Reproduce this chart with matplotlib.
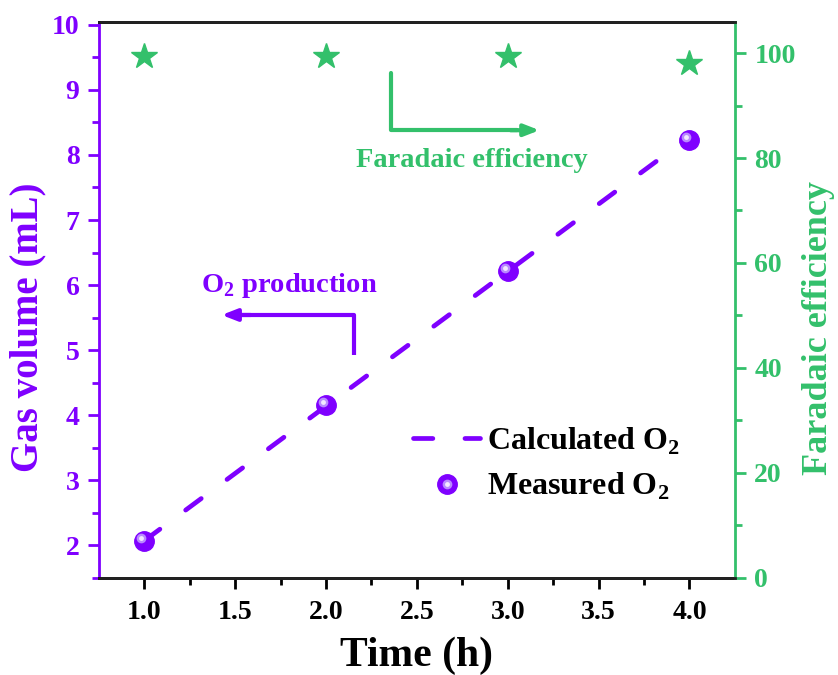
import matplotlib.pyplot as plt
import matplotlib.transforms as mtransforms
from matplotlib.legend_handler import HandlerTuple

plt.rcParams['font.family'] = 'Liberation Serif'
plt.rcParams['font.weight'] = 'bold'
plt.rcParams['mathtext.fontset'] = 'custom'
plt.rcParams['mathtext.rm'] = 'Liberation Serif:bold'
plt.rcParams['mathtext.bf'] = 'Liberation Serif:bold'

purple = '#7F00FF'
green = '#33C06B'

time_h = [1.0, 2.0, 3.0, 4.0]
measured_o2 = [2.07, 4.16, 6.22, 8.23]
calc_time = [1.0, 4.0]
calc_o2 = [2.07, 8.28]
faradaic_eff = [99.5, 99.5, 99.4, 98.1]

fig, ax = plt.subplots(figsize=(8.38, 6.75), dpi=100)
fig.subplots_adjust(left=0.118, right=0.877, top=0.968, bottom=0.144)
ax2 = ax.twinx()

# calculated line and measured spheres
calc_line, = ax.plot(calc_time, calc_o2, color=purple, lw=3.4,
                     dashes=(4.1, 6.8), dash_capstyle='round', zorder=3)
meas, = ax.plot(time_h, measured_o2, 'o', color=purple, ms=14, zorder=4, mec=purple)
shift = mtransforms.ScaledTranslation(-2.2 / 72, 2.2 / 72, fig.dpi_scale_trans)
hl1, = ax.plot(time_h, measured_o2, 'o', color='#B98AFF', ms=7, mew=0, zorder=5,
               transform=ax.transData + shift)
hl2, = ax.plot(time_h, measured_o2, 'o', color='#F2E8FF', ms=3.5, mew=0, zorder=6,
               transform=ax.transData + shift)

ax2.plot(time_h, faradaic_eff, '*', color=green, ms=19, mec=green, zorder=4)

ax.set_xlim(0.75, 4.25)
ax.set_ylim(1.52, 10.05)
ax2.set_ylim(0, 106)

ax.set_xticks([1.0, 1.5, 2.0, 2.5, 3.0, 3.5, 4.0])
ax.set_xticks([1.25, 1.75, 2.25, 2.75, 3.25, 3.75], minor=True)
ax.set_yticks(range(2, 11))
ax.set_yticks([x + 0.5 for x in range(1, 10)], minor=True)
ax2.set_yticks(range(0, 101, 20))
ax2.set_yticks(range(10, 101, 20), minor=True)

ax.set_xlabel('Time (h)', fontsize=30, fontweight='bold', labelpad=8)
ax.set_ylabel('Gas volume (mL)', fontsize=28, fontweight='bold', color=purple)
ax2.set_ylabel('Faradaic efficiency', fontsize=26, fontweight='bold', color=green)
ax.yaxis.set_label_coords(-0.082, 0.45)
ax2.yaxis.set_label_coords(1.106, 0.45)

for a in (ax, ax2):
    for s in a.spines.values():
        s.set_linewidth(2)
ax.spines['left'].set_color(purple)
ax2.spines['left'].set_visible(False)
ax2.spines['right'].set_color(green)
ax.spines['right'].set_visible(False)
ax2.spines['top'].set_color('#222222')
ax2.spines['bottom'].set_color('#222222')

ax.tick_params(axis='x', which='major', direction='out', length=8, width=2,
               labelsize=20, pad=8, top=False)
ax.tick_params(axis='x', which='minor', direction='out', length=5, width=2)
ax.tick_params(axis='y', which='major', direction='out', length=8, width=2,
               labelsize=20, colors=purple, pad=6)
ax.tick_params(axis='y', which='minor', direction='out', length=5, width=2, colors=purple)
ax2.tick_params(axis='y', which='major', direction='out', length=8, width=2,
                labelsize=20, colors=green, pad=6)
ax2.tick_params(axis='y', which='minor', direction='out', length=5, width=2, colors=green)

# elbow arrows pointing toward their axes
ax.plot([2.155, 2.155, 1.5], [4.93, 5.54, 5.54], color=purple, lw=3, solid_capstyle='butt')
ax.annotate('', xy=(1.41, 5.54), xytext=(1.6, 5.54),
            arrowprops=dict(arrowstyle='-|>,head_length=0.9,head_width=0.35',
                            color=purple, lw=3))
ax.text(1.8, 6.0, 'O$_2$ production', color=purple, fontsize=20.5,
        fontweight='bold', ha='center', va='center')

ax.plot([2.36, 2.36, 3.05], [9.26, 8.38, 8.38], color=green, lw=3, solid_capstyle='round')
ax.annotate('', xy=(3.19, 8.38), xytext=(3.0, 8.38),
            arrowprops=dict(arrowstyle='-|>,head_length=0.9,head_width=0.35',
                            color=green, lw=3))
ax.text(2.80, 7.92, 'Faradaic efficiency', color=green, fontsize=20.5,
        fontweight='bold', ha='center', va='center')

ax.legend([calc_line, (meas, hl1, hl2)], ['Calculated O$_2$', 'Measured O$_2$'],
          handler_map={tuple: HandlerTuple(ndivide=1, pad=0)},
          loc='upper left', bbox_to_anchor=(0.493, 0.37),
          bbox_transform=fig.transFigure, frameon=False,
          handlelength=2.1, handletextpad=0.2, labelspacing=0.45,
          borderpad=0, borderaxespad=0,
          prop={'weight': 'bold', 'size': 23})

fig.savefig('out.png', dpi=100, facecolor='white')
